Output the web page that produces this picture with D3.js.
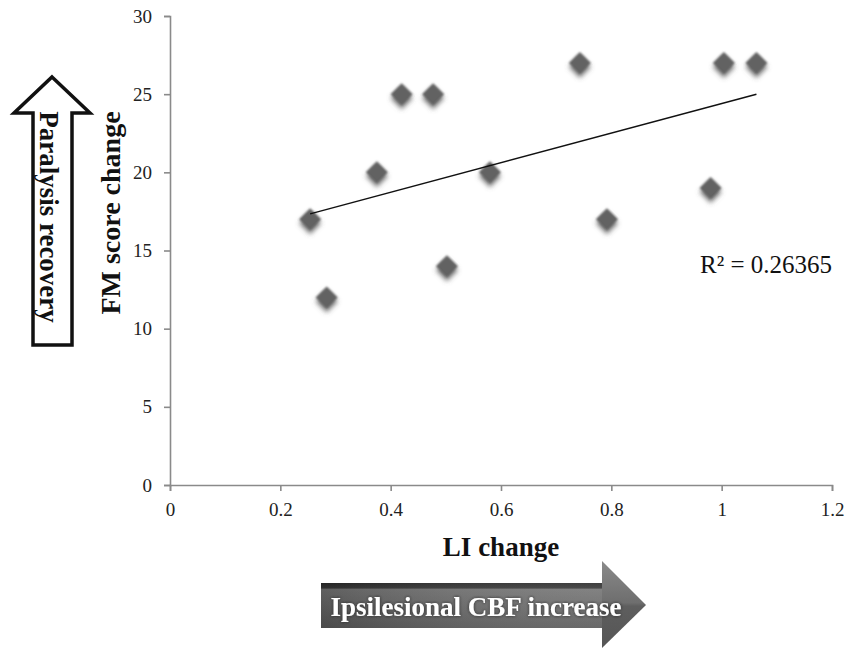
<!DOCTYPE html>
<html>
<head>
<meta charset="utf-8">
<script src="https://cdn.jsdelivr.net/npm/d3@7"></script>
<style>
  body { margin: 0; background: #fff; }
  svg { display: block; }
  svg text { font-family: "Liberation Serif", "DejaVu Serif", serif !important; }
</style>
</head>
<body>
<div id="chart"></div>
<script>
// LI change vs FM score change, with linear trend

var liChange = [0.254, 0.284, 0.375, 0.42, 0.477, 0.502, 0.58, 0.743, 0.792, 0.98, 1.004, 1.063]
var fmChange = [17, 12, 20, 25, 25, 14, 20, 27, 17, 19, 27, 27]
var xTicks = [0, 0.2, 0.4, 0.6, 0.8, 1, 1.2]
var yTicks = [0, 5, 10, 15, 20, 25, 30]
var rLabel = "R² = 0.26365"
var xTitle = "LI change", yTitle = "FM score change"
var upLabel = "Paralysis recovery", rightLabel = "Ipsilesional CBF increase"

var serif = "'Liberation Serif', 'DejaVu Serif', serif"
var width = 846, height = 648
var svg = d3.select("#chart").append("svg")
    .attr("width", width)
    .attr("height", height)
    .attr("font-family", serif)

var defs = svg.append("defs")

// soft drop shadow for the diamonds
var f = defs.append("filter").attr("id", "shadow")
    .attr("x", "-60%").attr("y", "-60%").attr("width", "220%").attr("height", "250%")
f.append("feGaussianBlur").attr("in", "SourceAlpha").attr("stdDeviation", 2.8).attr("result", "b")
f.append("feOffset").attr("in", "b").attr("dy", 3.5).attr("result", "o")
f.append("feFlood").attr("flood-color", "#555").attr("flood-opacity", 0.8).attr("result", "c")
f.append("feComposite").attr("in", "c").attr("in2", "o").attr("operator", "in").attr("result", "s")
f.append("feGaussianBlur").attr("in", "SourceGraphic").attr("stdDeviation", 0.8).attr("result", "g")
var fm = f.append("feMerge")
fm.append("feMergeNode").attr("in", "s")
fm.append("feMergeNode").attr("in", "g")

// text glow on the bottom arrow
var tg = defs.append("filter").attr("id", "tglow")
    .attr("x", "-10%").attr("y", "-30%").attr("width", "120%").attr("height", "160%")
tg.append("feGaussianBlur").attr("in", "SourceAlpha").attr("stdDeviation", 1.5).attr("result", "b")
tg.append("feFlood").attr("flood-color", "#222").attr("flood-opacity", 0.9).attr("result", "c")
tg.append("feComposite").attr("in", "c").attr("in2", "b").attr("operator", "in").attr("result", "s")
var tm = tg.append("feMerge")
tm.append("feMergeNode").attr("in", "s")
tm.append("feMergeNode").attr("in", "SourceGraphic")

var barGrad = defs.append("linearGradient").attr("id", "barGrad")
    .attr("x1", 0).attr("y1", 0).attr("x2", 0).attr("y2", 1)
barGrad.append("stop").attr("offset", "0%").attr("stop-color", "#2e2e2e")
barGrad.append("stop").attr("offset", "11%").attr("stop-color", "#3a3a3a")
barGrad.append("stop").attr("offset", "14%").attr("stop-color", "#777")
barGrad.append("stop").attr("offset", "55%").attr("stop-color", "#6a6a6a")
barGrad.append("stop").attr("offset", "100%").attr("stop-color", "#5c5c5c")

var barShade = defs.append("linearGradient").attr("id", "barShade")
    .attr("x1", 0).attr("y1", 0).attr("x2", 1).attr("y2", 0)
barShade.append("stop").attr("offset", "0%").attr("stop-color", "#000").attr("stop-opacity", 0.2)
barShade.append("stop").attr("offset", "100%").attr("stop-color", "#fff").attr("stop-opacity", 0.08)

var headGrad = defs.append("linearGradient").attr("id", "headGrad")
    .attr("x1", 0).attr("y1", 0).attr("x2", 0).attr("y2", 1)
headGrad.append("stop").attr("offset", "0%").attr("stop-color", "#8a8a8a")
headGrad.append("stop").attr("offset", "48%").attr("stop-color", "#6e6e6e")
headGrad.append("stop").attr("offset", "52%").attr("stop-color", "#5e5e5e")
headGrad.append("stop").attr("offset", "100%").attr("stop-color", "#555")

// ----------------- //
// Scales and axes
// ----------------- //
var x = d3.scaleLinear().domain([0, 1.2]).range([170, 832])
var y = d3.scaleLinear().domain([0, 30]).range([485, 16])

var xAxis = svg.append("g")
    .attr("transform", "translate(0," + y(0) + ")")
    .call(d3.axisBottom(x).tickValues(xTicks).tickSizeOuter(0).tickSize(6).tickPadding(12)
      .tickFormat(function(d) { return String(d) }))
var yAxis = svg.append("g")
    .attr("transform", "translate(" + x(0) + ",0)")
    .call(d3.axisLeft(y).tickValues(yTicks).tickSizeOuter(0).tickSize(6).tickPadding(12))

svg.selectAll("g").attr("font-family", serif)
svg.selectAll(".domain, .tick line").attr("stroke", "#8a8a8a").attr("stroke-width", 1.6)
svg.selectAll(".tick text")
    .attr("fill", "#222")
    .attr("font-family", serif)
    .attr("font-size", 19)

// ----------------- //
// Trend line
// ----------------- //
var mx = d3.mean(liChange), my = d3.mean(fmChange)
var sxy = d3.sum(liChange, function(v, i) { return (v - mx) * (fmChange[i] - my) })
var sxx = d3.sum(liChange, function(v) { return (v - mx) * (v - mx) })
var slope = sxy / sxx, intercept = my - slope * mx
var xr = d3.extent(liChange)

// ----------------- //
// Points
// ----------------- //
var pts = liChange.map(function(v, i) { return {x: v, y: fmChange[i]} })
var s = 11
svg.append("g").selectAll("path")
  .data(pts)
  .enter()
  .append("path")
    .attr("d", function(d) {
      var cx = x(d.x), cy = y(d.y)
      return "M" + cx + "," + (cy - s) + "L" + (cx + s) + "," + cy + "L" + cx + "," + (cy + s) + "L" + (cx - s) + "," + cy + "Z"
    })
    .attr("fill", "#626262")
    .attr("filter", "url(#shadow)")

svg.append("line")
    .attr("x1", x(xr[0])).attr("y1", y(intercept + slope * xr[0]))
    .attr("x2", x(xr[1])).attr("y2", y(intercept + slope * xr[1]))
    .attr("stroke", "#111")
    .attr("stroke-width", 1.5)

svg.append("text")
    .attr("x", 832).attr("y", 273)
    .attr("text-anchor", "end")
    .attr("font-size", 25)
    .attr("fill", "#111")
    .text(rLabel)

// ----------------- //
// Titles
// ----------------- //
svg.append("text")
    .attr("x", 501).attr("y", 556)
    .attr("text-anchor", "middle")
    .attr("font-size", 27).attr("font-weight", "bold")
    .attr("fill", "#111")
    .text(xTitle)

svg.append("text")
    .attr("transform", "translate(120,213) rotate(-90)")
    .attr("text-anchor", "middle")
    .attr("font-size", 28).attr("font-weight", "bold")
    .attr("fill", "#111")
    .text(yTitle)

// ----------------- //
// Up arrow
// ----------------- //
var up = [[52, 77], [90, 113], [72, 113], [72, 345], [33, 345], [33, 113], [14, 113]]
svg.append("path")
    .attr("d", d3.line()(up) + "Z")
    .attr("fill", "#fff")
    .attr("stroke", "#111")
    .attr("stroke-width", 3.5)
    .attr("stroke-linejoin", "miter")

svg.append("text")
    .attr("transform", "translate(40,217) rotate(90)")
    .attr("text-anchor", "middle")
    .attr("font-size", 27).attr("font-weight", "bold")
    .attr("fill", "#111")
    .text(upLabel)

// ----------------- //
// Right arrow
// ----------------- //
svg.append("rect")
    .attr("x", 321).attr("y", 583).attr("width", 282).attr("height", 45)
    .attr("fill", "url(#barGrad)")
svg.append("rect")
    .attr("x", 321).attr("y", 583).attr("width", 282).attr("height", 45)
    .attr("fill", "url(#barShade)")
svg.append("path")
    .attr("d", "M602,561L646,605L602,648Z")
    .attr("fill", "url(#headGrad)")

svg.append("text")
    .attr("x", 476).attr("y", 616)
    .attr("text-anchor", "middle")
    .attr("font-size", 27).attr("font-weight", "bold")
    .attr("fill", "#fff")
    .attr("filter", "url(#tglow)")
    .text(rightLabel)
</script>
</body>
</html>
